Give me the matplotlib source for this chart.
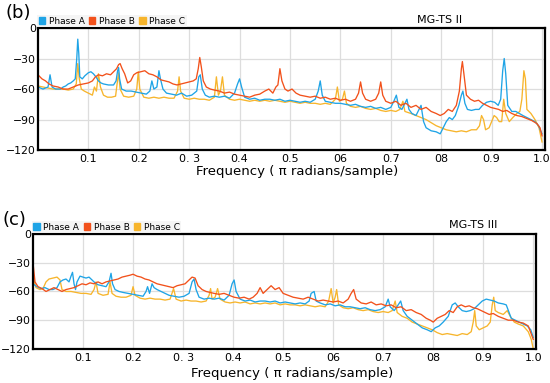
import matplotlib.pyplot as plt
from matplotlib.patches import Patch

# ---- panel (b): MG-TS II ----
b_a_f = [0.000, 0.010, 0.020, 0.024, 0.028, 0.035, 0.045, 0.050, 0.055, 0.060, 0.065, 0.070, 0.074, 0.077, 0.079,
         0.081, 0.083, 0.088, 0.093, 0.100, 0.105, 0.110, 0.115, 0.120, 0.125, 0.130, 0.140, 0.150, 0.155, 0.158,
         0.160, 0.162, 0.166, 0.175, 0.185, 0.195, 0.205, 0.215, 0.222, 0.226, 0.230, 0.236, 0.240, 0.243, 0.248,
         0.255, 0.265, 0.275, 0.285, 0.295, 0.305, 0.315, 0.319, 0.322, 0.326, 0.332, 0.340, 0.350, 0.360, 0.370,
         0.380, 0.390, 0.396, 0.400, 0.404, 0.410, 0.420, 0.430, 0.440, 0.450, 0.460, 0.470, 0.480, 0.490, 0.500,
         0.510, 0.520, 0.530, 0.540, 0.550, 0.556, 0.560, 0.564, 0.570, 0.580, 0.590, 0.600, 0.610, 0.620, 0.630,
         0.640, 0.650, 0.660, 0.670, 0.680, 0.690, 0.700, 0.706, 0.711, 0.716, 0.722, 0.728, 0.732, 0.736, 0.742,
         0.750, 0.756, 0.760, 0.765, 0.770, 0.780, 0.790, 0.798, 0.804, 0.810, 0.816, 0.822, 0.828, 0.835, 0.840,
         0.843, 0.847, 0.852, 0.860, 0.868, 0.875, 0.882, 0.890, 0.898, 0.906, 0.913, 0.918, 0.922, 0.925, 0.928,
         0.932, 0.940, 0.948, 0.955, 0.962, 0.970, 0.978, 0.986, 0.993, 1.000]
b_a_db = [-58, -60, -58, -46, -58, -60, -60, -58, -57, -55, -54, -52, -50, -30, -11,
          -25, -48, -50, -47, -44, -43, -45, -48, -52, -54, -55, -56, -56, -52, -42,
          -39, -50, -60, -62, -62, -63, -64, -65, -62, -52, -60, -58, -42, -50, -60,
          -64, -65, -66, -64, -67, -66, -62, -48, -46, -60, -66, -68, -67, -68, -67,
          -69, -64, -55, -50, -58, -68, -70, -69, -71, -70, -70, -71, -70, -72, -71,
          -72, -73, -72, -73, -70, -62, -52, -66, -72, -73, -74, -74, -75, -76, -75,
          -77, -78, -77, -79, -78, -80, -78, -72, -66, -78, -80, -74, -70, -80, -84,
          -86, -80, -76, -92, -98, -101, -102, -104, -98, -92, -88, -90, -86, -76, -66,
          -62, -74, -80, -81, -80, -80, -76, -73, -72, -73, -76, -70, -42, -30, -45,
          -76, -82, -82, -84, -86, -88, -90, -92, -96, -104]

b_b_f = [0.000, 0.008, 0.015, 0.022, 0.030, 0.040, 0.050, 0.060, 0.070, 0.080, 0.090, 0.100, 0.108, 0.114, 0.120,
         0.128, 0.136, 0.144, 0.150, 0.156, 0.160, 0.163, 0.167, 0.172, 0.178, 0.184, 0.190, 0.196, 0.204, 0.212,
         0.220, 0.228, 0.236, 0.244, 0.252, 0.260, 0.268, 0.276, 0.284, 0.292, 0.300, 0.308, 0.314, 0.318, 0.321,
         0.324, 0.328, 0.334, 0.342, 0.350, 0.360, 0.370, 0.380, 0.390, 0.400, 0.410, 0.420, 0.430, 0.440, 0.450,
         0.458, 0.466, 0.472, 0.476, 0.480, 0.484, 0.490, 0.496, 0.504, 0.512, 0.520, 0.530, 0.540, 0.550, 0.560,
         0.570, 0.580, 0.590, 0.600, 0.610, 0.620, 0.630, 0.636, 0.640, 0.644, 0.650, 0.660, 0.670, 0.676, 0.680,
         0.684, 0.690, 0.700, 0.710, 0.720, 0.730, 0.740, 0.750, 0.760, 0.770, 0.780, 0.790, 0.798, 0.806, 0.814,
         0.822, 0.830, 0.836, 0.840, 0.842, 0.845, 0.850, 0.858, 0.866, 0.874, 0.882, 0.890, 0.898, 0.906, 0.914,
         0.922, 0.930, 0.940, 0.950, 0.960, 0.970, 0.980, 0.990, 0.996, 1.000]
b_b_db = [-46, -50, -52, -55, -57, -58, -60, -60, -58, -56, -55, -54, -52, -48, -46,
          -47, -45, -46, -43, -40, -36, -35, -40, -45, -54, -52, -46, -44, -43, -42,
          -45, -46, -48, -51, -52, -53, -55, -56, -55, -54, -53, -52, -50, -40, -29,
          -38, -52, -58, -60, -61, -62, -64, -63, -65, -66, -67, -68, -66, -65, -62,
          -60, -64, -58, -56, -40, -52, -60, -62, -60, -64, -66, -67, -68, -67, -69,
          -68, -70, -69, -71, -70, -72, -70, -64, -53, -64, -70, -72, -70, -64, -53,
          -66, -72, -74, -72, -76, -74, -78, -76, -80, -78, -82, -84, -86, -84, -80,
          -82, -76, -62, -40, -33, -45, -66, -70, -72, -71, -74, -76, -78, -79, -80,
          -82, -81, -84, -86, -87, -89, -91, -94, -98, -106]

b_c_f = [0.000, 0.010, 0.020, 0.030, 0.040, 0.050, 0.060, 0.070, 0.076, 0.079, 0.082, 0.086, 0.092, 0.100, 0.108,
         0.112, 0.116, 0.120, 0.124, 0.130, 0.138, 0.146, 0.154, 0.157, 0.160, 0.163, 0.170, 0.180, 0.190, 0.196,
         0.199, 0.202, 0.210, 0.220, 0.230, 0.240, 0.250, 0.260, 0.270, 0.277, 0.280, 0.283, 0.290, 0.300, 0.310,
         0.320, 0.330, 0.340, 0.350, 0.354, 0.358, 0.362, 0.366, 0.370, 0.380, 0.390, 0.400, 0.410, 0.420, 0.430,
         0.440, 0.450, 0.460, 0.470, 0.480, 0.490, 0.500, 0.510, 0.520, 0.530, 0.540, 0.550, 0.560, 0.570, 0.580,
         0.590, 0.594, 0.598, 0.604, 0.608, 0.612, 0.620, 0.630, 0.640, 0.650, 0.660, 0.670, 0.680, 0.690, 0.700,
         0.710, 0.718, 0.724, 0.728, 0.740, 0.750, 0.760, 0.770, 0.780, 0.790, 0.800, 0.810, 0.820, 0.830, 0.840,
         0.850, 0.860, 0.870, 0.876, 0.880, 0.884, 0.888, 0.895, 0.900, 0.905, 0.910, 0.915, 0.920, 0.924, 0.928,
         0.935, 0.942, 0.950, 0.956, 0.960, 0.964, 0.967, 0.970, 0.978, 0.986, 0.994, 1.000]
b_c_db = [-57, -58, -59, -60, -60, -60, -61, -60, -55, -35, -50, -60, -62, -64, -66,
          -58, -62, -45, -58, -66, -68, -68, -67, -55, -44, -60, -67, -68, -67, -60,
          -43, -60, -68, -69, -68, -69, -68, -69, -69, -62, -48, -62, -69, -70, -69,
          -70, -70, -71, -68, -48, -66, -62, -48, -66, -70, -71, -70, -71, -72, -71,
          -72, -71, -72, -71, -72, -73, -72, -73, -74, -73, -74, -74, -75, -74, -75,
          -70, -58, -72, -70, -62, -74, -77, -78, -77, -79, -80, -79, -81, -82, -81,
          -82, -80, -72, -82, -84, -86, -88, -90, -93, -96, -98, -100, -101, -102, -101,
          -102, -100, -100, -96, -86, -90, -100, -98, -92, -86, -88, -92, -92, -70, -84,
          -92, -88, -84, -82, -70, -42, -50, -80, -84, -90, -98, -112]

# ---- panel (c): MG-TS III ----
c_a_f = [0.000, 0.008, 0.016, 0.024, 0.032, 0.040, 0.048, 0.054, 0.060, 0.066, 0.072, 0.076, 0.079, 0.082, 0.085,
         0.088, 0.094, 0.100, 0.106, 0.112, 0.118, 0.124, 0.130, 0.138, 0.146, 0.152, 0.156, 0.159, 0.164, 0.172,
         0.180, 0.190, 0.200, 0.210, 0.220, 0.226, 0.229, 0.233, 0.238, 0.242, 0.248, 0.256, 0.264, 0.272, 0.282,
         0.292, 0.302, 0.312, 0.318, 0.322, 0.326, 0.332, 0.342, 0.352, 0.362, 0.372, 0.382, 0.392, 0.398, 0.402,
         0.406, 0.414, 0.424, 0.434, 0.444, 0.454, 0.464, 0.474, 0.484, 0.494, 0.504, 0.514, 0.524, 0.534, 0.544,
         0.552, 0.556, 0.562, 0.566, 0.574, 0.584, 0.594, 0.604, 0.614, 0.624, 0.634, 0.644, 0.654, 0.664, 0.674,
         0.684, 0.694, 0.704, 0.710, 0.714, 0.722, 0.730, 0.735, 0.740, 0.748, 0.758, 0.768, 0.778, 0.788, 0.796,
         0.804, 0.812, 0.820, 0.830, 0.838, 0.844, 0.850, 0.858, 0.866, 0.874, 0.882, 0.890, 0.898, 0.906, 0.914,
         0.922, 0.930, 0.940, 0.946, 0.956, 0.964, 0.972, 0.980, 0.988, 0.995, 1.000]
c_a_db = [-52, -55, -57, -56, -58, -58, -56, -50, -48, -47, -50, -44, -40, -52, -58,
          -50, -44, -45, -46, -45, -48, -51, -53, -54, -55, -50, -41, -52, -58, -60,
          -61, -62, -63, -64, -65, -60, -55, -62, -52, -56, -58, -60, -62, -64, -65,
          -66, -65, -62, -50, -47, -58, -66, -68, -67, -68, -67, -69, -64, -52, -48,
          -60, -68, -70, -69, -71, -70, -70, -71, -70, -72, -71, -72, -73, -72, -73,
          -70, -62, -60, -70, -72, -74, -73, -75, -74, -76, -76, -77, -78, -77, -79,
          -80, -79, -76, -68, -76, -80, -74, -70, -80, -86, -90, -94, -98, -100, -102,
          -98, -96, -92, -86, -74, -72, -76, -80, -81, -80, -78, -74, -70, -68, -69,
          -70, -72, -73, -74, -88, -90, -92, -94, -96, -100, -108]

c_b_f = [0.000, 0.004, 0.010, 0.018, 0.026, 0.034, 0.042, 0.050, 0.058, 0.066, 0.074, 0.082, 0.090, 0.098, 0.106,
         0.114, 0.122, 0.130, 0.138, 0.146, 0.154, 0.162, 0.170, 0.178, 0.186, 0.194, 0.200, 0.208, 0.216, 0.224,
         0.232, 0.240, 0.248, 0.256, 0.264, 0.272, 0.280, 0.288, 0.296, 0.304, 0.312, 0.318, 0.324, 0.330, 0.338,
         0.346, 0.354, 0.362, 0.372, 0.382, 0.392, 0.402, 0.412, 0.422, 0.432, 0.440, 0.448, 0.454, 0.460, 0.468,
         0.476, 0.484, 0.492, 0.500, 0.510, 0.520, 0.530, 0.540, 0.550, 0.560, 0.570, 0.580, 0.590, 0.600, 0.610,
         0.620, 0.630, 0.636, 0.641, 0.646, 0.656, 0.666, 0.676, 0.686, 0.696, 0.706, 0.716, 0.726, 0.736, 0.746,
         0.756, 0.766, 0.776, 0.786, 0.794, 0.800, 0.808, 0.816, 0.824, 0.832, 0.840, 0.848, 0.856, 0.864, 0.872,
         0.880, 0.888, 0.896, 0.904, 0.912, 0.920, 0.930, 0.940, 0.950, 0.960, 0.970, 0.980, 0.990, 1.000]
c_b_db = [-30, -50, -55, -57, -60, -58, -56, -58, -60, -58, -57, -56, -54, -52, -53,
          -51, -52, -50, -52, -50, -49, -48, -47, -45, -44, -43, -42, -44, -45, -47,
          -48, -50, -52, -53, -54, -55, -56, -54, -53, -52, -48, -45, -46, -54, -58,
          -60, -61, -62, -63, -62, -64, -66, -67, -66, -68, -66, -62, -56, -62, -58,
          -54, -58, -56, -62, -64, -66, -67, -68, -66, -68, -70, -69, -70, -71, -70,
          -72, -68, -62, -58, -68, -72, -73, -71, -74, -73, -75, -74, -77, -76, -80,
          -79, -82, -84, -88, -90, -92, -88, -86, -84, -80, -82, -76, -74, -76, -75,
          -77, -78, -80, -82, -84, -83, -86, -88, -90, -90, -92, -93, -96, -110]

c_c_f = [0.000, 0.006, 0.014, 0.020, 0.026, 0.032, 0.040, 0.048, 0.054, 0.058, 0.066, 0.076, 0.086, 0.096, 0.106,
         0.116, 0.122, 0.126, 0.130, 0.140, 0.150, 0.154, 0.158, 0.166, 0.176, 0.186, 0.196, 0.200, 0.204, 0.214,
         0.224, 0.234, 0.244, 0.254, 0.264, 0.274, 0.281, 0.286, 0.296, 0.306, 0.316, 0.326, 0.336, 0.346, 0.352,
         0.355, 0.358, 0.364, 0.369, 0.374, 0.384, 0.394, 0.404, 0.414, 0.424, 0.434, 0.444, 0.454, 0.464, 0.474,
         0.484, 0.494, 0.504, 0.514, 0.524, 0.534, 0.544, 0.554, 0.564, 0.574, 0.584, 0.591, 0.596, 0.600, 0.604,
         0.607, 0.611, 0.620, 0.630, 0.640, 0.650, 0.660, 0.670, 0.680, 0.690, 0.700, 0.710, 0.718, 0.724, 0.728,
         0.738, 0.748, 0.758, 0.768, 0.778, 0.788, 0.798, 0.808, 0.818, 0.828, 0.838, 0.848, 0.858, 0.868, 0.876,
         0.880, 0.883, 0.886, 0.892, 0.900, 0.908, 0.914, 0.918, 0.921, 0.924, 0.930, 0.940, 0.948, 0.954, 0.962,
         0.970, 0.980, 0.990, 0.996, 1.000]
c_c_db = [-45, -56, -58, -57, -50, -47, -46, -45, -48, -58, -60, -60, -61, -62, -62,
          -63, -58, -50, -62, -64, -63, -50, -62, -65, -66, -66, -64, -55, -64, -67,
          -68, -67, -68, -68, -69, -68, -57, -68, -70, -69, -70, -70, -71, -70, -64,
          -57, -68, -66, -57, -68, -71, -72, -71, -72, -71, -73, -72, -73, -72, -73,
          -72, -74, -73, -74, -74, -75, -74, -75, -76, -75, -76, -70, -57, -72, -66,
          -58, -74, -77, -78, -77, -79, -80, -79, -81, -82, -81, -82, -80, -70, -82,
          -86, -88, -92, -94, -96, -98, -100, -103, -105, -104, -105, -106, -104, -105, -102,
          -92, -80, -96, -100, -98, -96, -92, -74, -66, -80, -82, -84, -80, -86, -92,
          -94, -96, -102, -110, -120]

phase_names = ["Phase A", "Phase B", "Phase C"]
phase_colors = ["#1fa4e6", "#f2511b", "#f7b52c"]
tick_pos = [0.1, 0.2, 0.3, 0.4, 0.5, 0.6, 0.7, 0.8, 0.9, 1.0]
tick_labels = ["0.1", "0.2", "0. 3", "0.4", "0.5", "06", "0.7", "08", "0.9", "1.0"]
y_ticks = [0, -30, -60, -90, -120]

fig = plt.figure(figsize=(5.5, 3.83), dpi=100)


def draw_panel(rect, series, title, title_xy, label, label_xy, legend_xy, xlabel_xy):
    ax = fig.add_axes(rect)
    # yellow under blue under red
    for idx in [2, 0, 1]:
        f, db = series[idx]
        ax.plot(f, db, color=phase_colors[idx], lw=0.95)
    ax.set_xlim(0, 1.006)
    ax.set_ylim(-120, 0)
    ax.set_xticks(tick_pos)
    ax.set_xticklabels(tick_labels)
    ax.set_yticks(y_ticks)
    ax.tick_params(axis="x", length=0, labelsize=8, pad=3)
    ax.tick_params(axis="y", length=0, labelsize=7.8, pad=1.5)
    ax.grid(True, color="#dddddd", lw=0.9)
    ax.set_axisbelow(True)
    for s in ax.spines.values():
        s.set_linewidth(1.6)
    handles = [Patch(color=c, label=n) for c, n in zip(phase_colors, phase_names)]
    fig.legend(handles=handles, loc="center left", bbox_to_anchor=legend_xy, ncol=3,
               fontsize=6.5, frameon=True, facecolor="#f3f3f3", edgecolor="none", fancybox=False,
               handlelength=0.7, handleheight=0.7, handletextpad=0.4, columnspacing=0.5,
               borderpad=0.15, borderaxespad=0)
    fig.text(title_xy[0], title_xy[1], title, fontsize=8, ha="center", va="center")
    fig.text(label_xy[0], label_xy[1], label, fontsize=13, ha="center", va="center")
    fig.text(xlabel_xy[0], xlabel_xy[1], "Frequency ( \u03c0 radians/sample)", fontsize=9.5,
             ha="center", va="center")
    return ax


draw_panel([0.069, 0.608, 0.922, 0.319],
           [(b_a_f, b_a_db), (b_b_f, b_b_db), (b_c_f, b_c_db)],
           "MG-TS II", (0.8, 0.948), "(b)", (0.033, 0.966), (0.068, 0.945), (0.54, 0.551))

draw_panel([0.06, 0.089, 0.915, 0.30],
           [(c_a_f, c_a_db), (c_b_f, c_b_db), (c_c_f, c_c_db)],
           "MG-TS III", (0.86, 0.413), "(c)", (0.027, 0.426), (0.058, 0.407), (0.531, 0.026))

fig.savefig("out.png", dpi=100)
